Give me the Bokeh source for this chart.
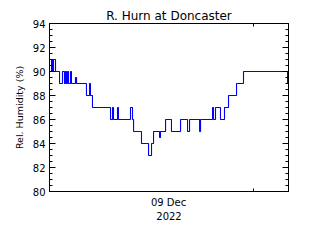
import pandas as pd
from bokeh.plotting import figure
from bokeh.models import Range1d, LinearAxis, FixedTicker
from bokeh.embed import file_html
from bokeh.resources import INLINE

# Data (step series, relative humidity %)
times = [
    "2022-12-08 19:12", "2022-12-08 19:29", "2022-12-08 19:37", "2022-12-08 19:46",
    "2022-12-08 20:03", "2022-12-08 20:37", "2022-12-08 21:02", "2022-12-08 21:19",
    "2022-12-08 21:28", "2022-12-08 21:36", "2022-12-08 21:44", "2022-12-08 21:53",
    "2022-12-08 22:10", "2022-12-08 22:18", "2022-12-08 22:52", "2022-12-08 23:01",
    "2022-12-09 00:25", "2022-12-09 00:51", "2022-12-09 00:59", "2022-12-09 01:16",
    "2022-12-09 03:49", "2022-12-09 04:06", "2022-12-09 04:14", "2022-12-09 04:48",
    "2022-12-09 04:56", "2022-12-09 06:38", "2022-12-09 06:55", "2022-12-09 07:04",
    "2022-12-09 08:11", "2022-12-09 09:11", "2022-12-09 09:36", "2022-12-09 09:53",
    "2022-12-09 10:44", "2022-12-09 10:52", "2022-12-09 11:35", "2022-12-09 12:25",
    "2022-12-09 13:42", "2022-12-09 14:41", "2022-12-09 14:58", "2022-12-09 16:23",
    "2022-12-09 16:31", "2022-12-09 18:13", "2022-12-09 18:21", "2022-12-09 18:38",
    "2022-12-09 19:20", "2022-12-09 19:54", "2022-12-09 20:28", "2022-12-09 21:36",
    "2022-12-09 22:35", "2022-12-10 04:48", "2022-12-10 04:56",
]
humidity = [
    90, 91, 90, 91,
    90, 89, 90, 89,
    90, 89, 90, 89,
    90, 89, 89.5, 89,
    88, 89, 88, 87,
    86, 87, 86, 87,
    86, 87, 86, 85,
    84, 83, 84, 85,
    84.5, 85, 86, 85,
    86, 85, 86, 85,
    86, 87, 86, 87,
    86, 87, 88, 89,
    90, 89, 89,
]
x_start = "2022-12-08 19:12"
x_end = "2022-12-10 04:56"
x_tick = "2022-12-10 00:00"
x_label_pos = "2022-12-09 12:00"
x_day_label = "09 Dec"
x_year_label = "2022"
y_ticks = [80, 82, 84, 86, 88, 90, 92, 94]
y_minor = [80 + 0.5 * i for i in range(29)]
title = "R. Hurn at Doncaster"
y_title = "Rel. Humidity (%)"


def ms(s):
    return pd.Timestamp(s).value / 1e6


xs = [ms(t) for t in times]

p = figure(width=320, height=240, output_backend="svg", toolbar_location=None,
           x_axis_type=None, y_axis_type=None,
           x_range=Range1d(ms(x_start), ms(x_end)), y_range=Range1d(80, 94),
           min_border_left=49, min_border_right=32, min_border_top=23,
           min_border_bottom=49)
p.background_fill_color = "white"
p.border_fill_color = "white"
p.outline_line_color = "black"
p.outline_line_width = 1

p.title.text = title
p.title.align = "center"
p.title.text_font = "DejaVu Sans"
p.title.text_font_size = "12px"
p.title.text_font_style = "normal"
p.title.text_color = "black"
p.title.standoff = 2


def style(ax, labels=True):
    ax.axis_line_color = "black"
    ax.major_tick_line_color = "black"
    ax.minor_tick_line_color = "black"
    ax.major_tick_out = 0
    ax.minor_tick_out = 0
    ax.major_label_text_font = "DejaVu Sans"
    ax.major_label_text_color = "black"
    ax.major_label_text_font_size = "10px"
    if not labels:
        ax.major_label_overrides = {t: "" for t in ax.ticker.ticks}
        ax.major_label_standoff = 0
    else:
        ax.major_label_standoff = 4


yt = FixedTicker(ticks=y_ticks, minor_ticks=y_minor)
left = LinearAxis(ticker=yt, axis_label=y_title)
style(left)
left.major_tick_in = 6
left.minor_tick_in = 3
left.axis_label_text_font = "DejaVu Sans"
left.axis_label_text_font_size = "9.5px"
left.axis_label_text_font_style = "normal"
left.axis_label_text_color = "black"
left.axis_label_standoff = 5
p.add_layout(left, "left")

right = LinearAxis(ticker=FixedTicker(ticks=y_ticks, minor_ticks=y_minor))
style(right, labels=False)
right.major_tick_in = 6
right.minor_tick_in = 3
p.add_layout(right, "right")

for side in ("below", "above"):
    ax = LinearAxis(ticker=FixedTicker(ticks=[ms(x_tick)], minor_ticks=[]))
    style(ax, labels=False)
    ax.major_tick_in = 3
    p.add_layout(ax, side)

# label-only axis under the tick axis: day label at midday, year as axis label
lab = LinearAxis(ticker=FixedTicker(ticks=[ms(x_label_pos)], minor_ticks=[]),
                 axis_label=x_year_label)
style(lab)
lab.major_label_overrides = {ms(x_label_pos): x_day_label}
lab.axis_line_color = None
lab.major_tick_line_color = None
lab.major_tick_in = 0
lab.major_label_standoff = 5
lab.axis_label_text_font = "DejaVu Sans"
lab.axis_label_text_font_size = "10px"
lab.axis_label_text_font_style = "normal"
lab.axis_label_text_color = "black"
lab.axis_label_standoff = 1
p.add_layout(lab, "below")

p.step(xs, humidity, mode="after", line_color="#0000ff", line_width=1.1)

open("out.html", "w").write(file_html(p, INLINE))
